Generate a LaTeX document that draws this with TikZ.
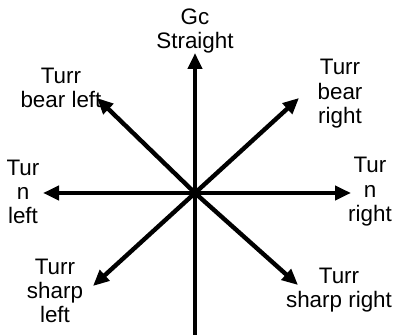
\documentclass[tikz,border=0pt]{standalone}
\usepackage{fontspec}
\setmainfont{Liberation Sans}
\usetikzlibrary{arrows.meta,positioning}
\tikzset{
  dirArrow/.style={line width=2.2pt, -{Triangle[length=8pt,width=7pt]}},
  dirLabel/.style={align=center, inner sep=0pt, font=\fontsize{11.2}{12.2}\selectfont}
}
\begin{document}
\begin{tikzpicture}[x=0.5pt, y=0.5pt]
  \useasboundingbox (0,0) rectangle (394,335);
  % centre of the star  (image px, y flipped: y = 335 - row)
  \coordinate (centre) at (195,142);
  % arrow tips
  \coordinate (tipStraight) at (195,282);
  \coordinate (tipBearL) at (97,237);
  \coordinate (tipBearR) at (299,237);
  \coordinate (tipLeft) at (43,142);
  \coordinate (tipRight) at (351,142);
  \coordinate (tipSharpL) at (93,49);
  \coordinate (tipSharpR) at (298,50);
  \coordinate (tailDown) at (195,0);
  % labels
  \node[dirLabel] (goStraight) at (195,304){Gc\\Straight};
  \node[dirLabel] (bearLeft) at (61,247){Turr\\bear left};
  \node[dirLabel] (bearRight) at (340,241){Turr\\bear\\right};
  \node[dirLabel] (turnLeft) at (23,143){Tur\\n\\left};
  \node[dirLabel] (turnRight) at (370,143){Tur\\n\\right};
  \node[dirLabel] (sharpLeft) at (55,44){Turr\\sharp\\left};
  \node[dirLabel] (sharpRight) at (339,45){Turr\\sharp right};
  % spokes
  \draw[line width=2.2pt] (centre) -- (tailDown);
  \foreach \t in {tipStraight,tipBearL,tipBearR,tipLeft,tipRight,tipSharpL,tipSharpR}
    \draw[dirArrow] (centre) -- (\t);
\end{tikzpicture}
\end{document}
